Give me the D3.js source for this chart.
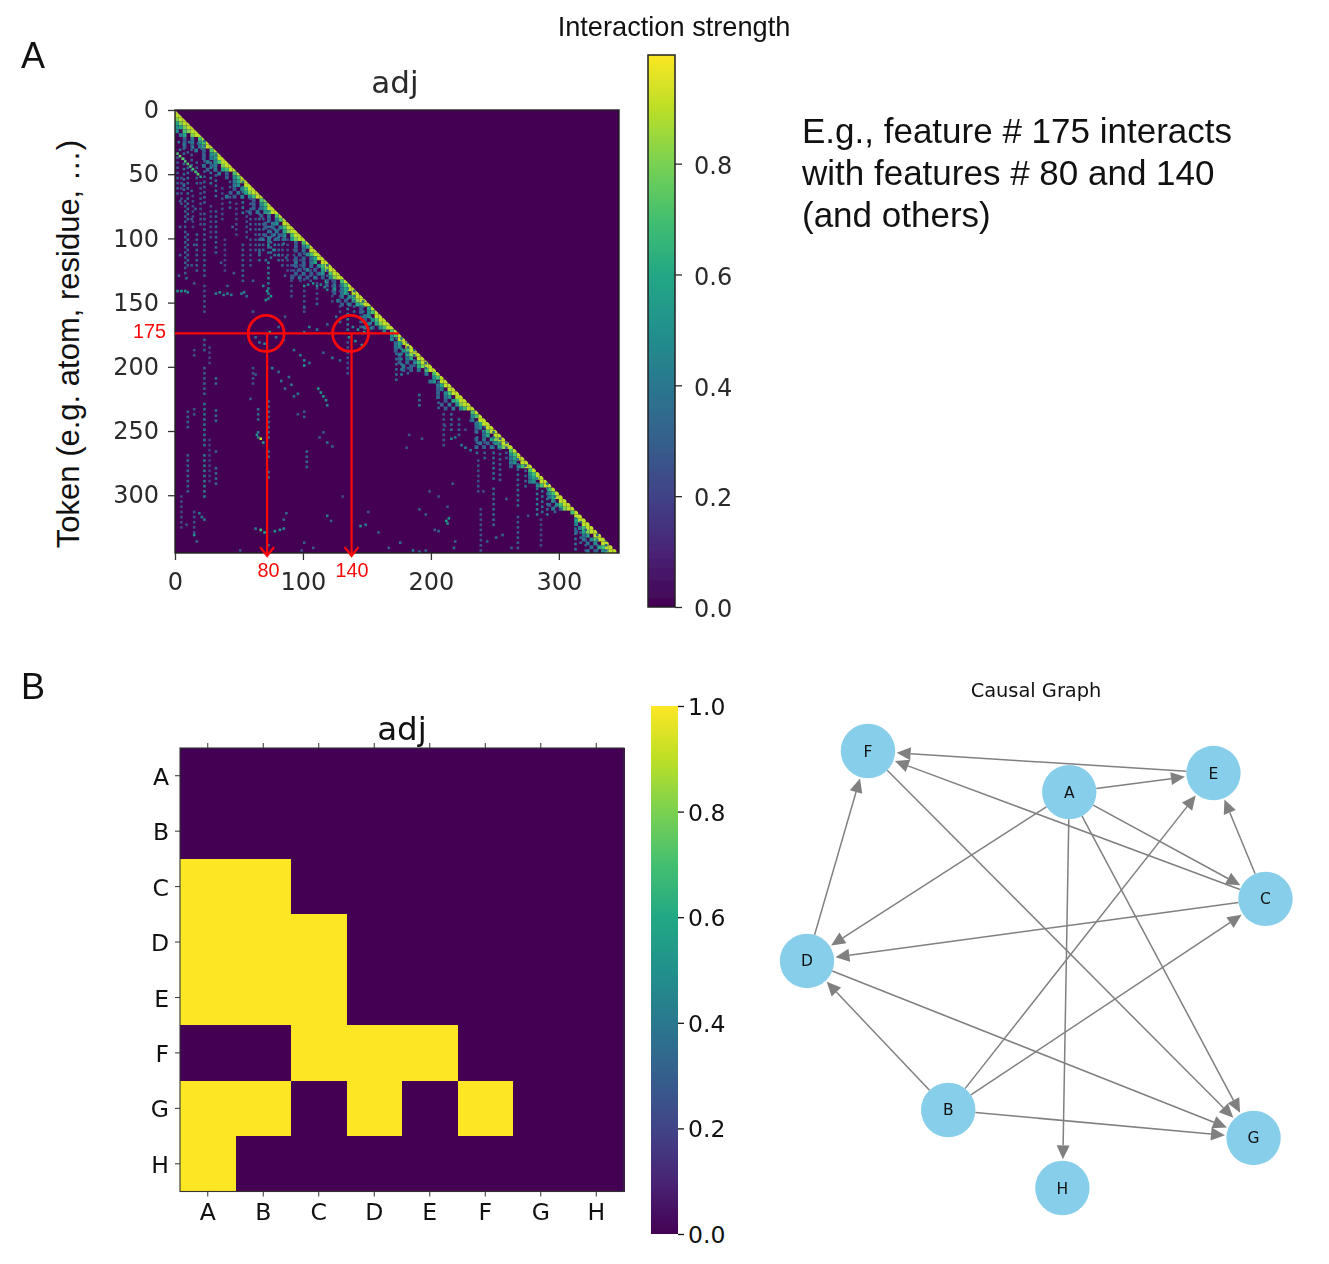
<!DOCTYPE html>
<html>
<head>
<meta charset="utf-8">
<script src="https://cdn.jsdelivr.net/npm/d3@7/dist/d3.min.js"></script>
<style>
html,body{margin:0;padding:0;background:#fff}
svg{display:block}
text{font-family:"DejaVu Sans"}
text.arial{font-family:"Liberation Sans"}
</style>
</head>
<body>
<svg id="chart" width="1329" height="1264"></svg>
<script>
// ---- Panel A: token adjacency heatmap ----
const tokenXTicks = [0,100,200,300];
const tokenYTicks = [0,50,100,150,200,250,300];
const strengthTicks = [0,0.2,0.4,0.6,0.8];
// Near-diagonal band. One string per 3-token row; each character is the strength (x10)
// of a 3-token cell, walking left from the diagonal.
const bandRows = [
"9","99","998","9986","99865","9987.5","998.64",
"97.4.3","975.4.3","9974.3.3",
"97.3.4","975.3","9964.3","9975.4","998.53.4","9976.4.3",
"97.3.4","975.3","9964","99.54","9975.3","9986.4.3","9975.4.3.4",
"87.3","975.3","9964.3","9975.4.3",
"97.3.3","974.3","99.54.3","9975.3.3","9986.4.3","997.53.3.3","9986.4.3.4.3",
"97.3","964.3","99.4.3","9975.3","9964.3.3","99.64.3.4","9975.4.3.3","9986.3.4.3","997.54.3.4.3","9985.3.4.3.4.3",
"97.3.6","975.4.3","9964.5","99.64.3","9975.4","9986.3.4","9976.4.3",
"96.3","975.3","99.54","9975.3","9986.4","9975.3.4",
"97.4","975","99.5","9964","99.54","9975.3","9986.4","99.64.3","9975.4.3","9986.3.4","997.4.3.3",
"97.4","975","99.54","9964","99.43","9975.3","99.54.3","9976.3","9985.4.3","9975.4.3",
"97","975","99.4","9964","99.53","9975.3","99.64","9986.4.3","9975.3.4","9986.4.3.3",
"97","975","9964","99.54","9975.3",
"97","975","9964","99.54","9975",
"97","975","9964","99.5","9975.3","9986.4",
"97","99","996","99.5","9975","9986.3","99.64","9975.4","99.5.4","9976.4","9985.3.4","99.6.4.3"
];
// Vertical streaks: column, first row, last row, strength.
const streaks = [
[1,36,65,.3],[4,52,75,.26],[6,25,62,.35],[7,70,128,.3],[9,44,88,.35],[9,96,122,.3],[12,30,48,.3],[13,66,92,.22],[16,40,60,.3],[16,96,125,.3],
[19,56,90,.25],[22,23,72,.32],[22,80,130,.3],[22,136,159,.26],[27,36,60,.42],[27,74,100,.22],[31,34,70,.36],[31,78,114,.32],[36,60,88,.22],[38,100,126,.2],[42,55,78,.3],[47,72,98,.22],
[52,55,80,.42],[52,104,133,.3],[55,78,100,.24],[58,68,96,.3],[58,100,122,.26],[62,84,112,.26],[65,76,117,.36],[68,84,110,.32],[72,78,112,.4],[72,118,148,.42],
[74,90,118,.36],[77,88,115,.42],[80,92,118,.32],[83,96,122,.3],[87,100,128,.25],[92,108,132,.25],[97,112,135,.24],[100,107,135,.3],[100,140,159,.26],[105,116,134,.3],[110,122,148,.24],[122,132,150,.24],[128,136,158,.25],[134,138,172,.42],
[139,140,160,.35],[146,148,170,.38],[152,161,172,.48],[144,152,170,.32],[118,120,140,.3],[90,120,145,.25],
[22,178,190,.3],[22,200,222,.3],[22,228,262,.38],[22,268,304,.42],[31,208,214,.34],[31,233,245,.35],[31,265,268,.32],
[31,278,291,.35],[9,234,250,.3],[9,268,300,.3],[14,186,192,.26],[14,232,240,.25],[72,226,255,.42],[72,265,273,.44],
[72,281,289,.44],[64,232,242,.34],[64,250,255,.42],[100,234,242,.3],[102,265,281,.32],[60,200,215,.25],[134,180,205,.25],[4,300,325,.22],[14,312,330,.25],[26,184,200,.2],[26,256,290,.18],
[172,177,210,.34],[176,177,206,.42],[181,180,205,.32],[205,211,234,.34],[190,221,232,.38],[209,236,262,.27],[186,178,200,.32],[195,184,204,.32],
[215,236,250,.34],[221,240,254,.32],[235,242,268,.38],[236,272,300,.25],[238,310,343,.25],[241,246,272,.32],[248,250,290,.36],[248,294,323,.33],[253,255,290,.3],[258,258,272,.27],
[267,271,310,.34],[267,316,343,.3],[273,276,296,.32],[282,286,315,.42],[286,296,316,.38],[290,290,315,.4],[285,318,340,.22],[296,300,316,.34],[312,317,343,.4],[316,320,340,.34],[329,326,343,.36],[320,326,343,.3],[336,334,344,.34]
];
// Isolated dots: row, column, strength.
const specks = [
[33,1,.72],[35,3,.74],[37,5,.76],[39,7,.7],[41,9,.74],[43,11,.7],[45,13,.7],[47,15,.7],[49,17,.74],[51,19,.6],
[24,2,.45],[26,6,.4],[24,10,.4],[28,13,.45],[25,17,.35],[29,20,.4],[30,3,.4],[32,9,.3],[58,6,.4],[62,12,.3],[70,3,.3],[76,15,.3],[84,12,.3],[90,3,.28],[104,14,.32],[112,3,.3],[120,12,.28],[128,2,.3],[130,8,.35],[134,14,.28],
[140,1,.5],[140,4,.55],[140,7,.5],[141,9,.45],[142,31,.45],[141,34,.5],[143,37,.42],[142,40,.45],[143,43,.4],
[142,51,.42],[141,53,.45],[144,55,.35],[136,68,.45],[140,71,.55],[144,74,.55],[147,70,.5],[136,100,.5],[135,103,.45],
[134,107,.5],[136,110,.5],[135,113,.45],[137,116,.45],[139,118,.4],[150,110,.35],[153,100,.3],[160,85,.28],[156,60,.28],
[100,68,.45],[104,72,.5],[108,76,.5],[112,80,.42],[98,80,.42],[103,84,.4],[110,65,.35],[116,70,.38],[114,86,.32],
[120,92,.3],[124,95,.3],[118,100,.3],[128,85,.28],[132,60,.3],[136,40,.3],[126,45,.3],[118,35,.28],[90,44,.3],
[160,125,.35],[164,128,.35],[168,138,.45],[170,142,.55],[172,147,.55],[166,118,.3],[170,110,.4],[168,104,.45],[172,100,.4],
[176,62,.35],[180,65,.42],[181,69,.45],[172,73,.6],[176,78,.35],[168,80,.3],[178,84,.3],[176,135,.5],[179,140,.5],[182,145,.45],
[186,92,.35],[190,97,.4],[194,100,.48],[198,100,.55],[196,104,.4],[188,115,.3],[192,122,.4],[194,128,.35],[200,75,.45],[203,80,.35],
[205,62,.3],[207,88,.35],[210,82,.4],[213,90,.4],[216,85,.35],[216,111,.5],[219,113,.55],[222,115,.55],[225,117,.5],[229,118,.45],
[220,95,.38],[222,92,.35],[224,58,.3],[236,95,.25],[250,115,.3],[255,66,.9],[252,63,.5],[258,68,.55],[254,112,.3],[258,118,.38],[261,122,.32],
[326,66,.7],[328,69,.6],[325,62,.4],[327,77,.5],[326,81,.5],[325,84,.45],[313,18,.42],[316,20,.42],[318,22,.42],[330,14,.5],[335,16,.32],
[322,8,.25],[313,86,.32],[318,84,.3],[315,118,.42],[319,121,.3],[323,144,.5],[322,148,.4],[328,158,.3],[312,150,.28],[300,130,.22],
[336,100,.3],[340,107,.3],[342,98,.25],[345,80,.25],[338,72,.35],[342,50,.25],[340,166,.28],[336,175,.35],[319,211,.55],[317,213,.5],[321,212,.5],
[255,215,.45],[254,218,.4],[260,223,.42],[262,226,.42],[264,230,.42],[255,192,.28],[262,180,.25],[252,182,.25],[310,190,.3],[314,195,.3],[308,212,.25],
[327,205,.35],[326,202,.3],[342,185,.42],[343,190,.35],[335,218,.32],[340,217,.35],[342,195,.32],[332,250,.35],[330,255,.32],[335,243,.3],[340,262,.3],
[290,216,.28],[296,198,.25],[300,205,.25],[296,240,.25],[302,258,.28],[315,275,.25],[310,300,.22],[241,230,.3],[248,226,.25],[245,210,.25]
];
const annotatedRow = 174, annotatedCols = [72,138], annotatedEnd = 175;
const annotationTexts = ["175","80","140"];
const noteLines = ["E.g., feature # 175 interacts","with features # 80 and 140","(and others)"];

// ---- Panel B: adjacency matrix and causal graph ----
const variables = ["A","B","C","D","E","F","G","H"];
const matrixRows = [
[0,0,0,0,0,0,0,0],
[0,0,0,0,0,0,0,0],
[1,1,0,0,0,0,0,0],
[1,1,1,0,0,0,0,0],
[1,1,1,0,0,0,0,0],
[0,0,1,1,1,0,0,0],
[1,1,0,1,0,1,0,0],
[1,0,0,0,0,0,0,0]
];
const matrixTicks = [0,0.2,0.4,0.6,0.8,1.0];
// Layout coordinates of the graph nodes (unit square).
const layoutX = {A:.144,B:-.384,C:1,D:-1,E:.773,F:-.734,G:.948,H:.114};
const layoutY = {A:.812,B:-.643,C:.323,D:.039,E:.899,F:1,G:-.771,H:-1};

const svg = d3.select("#chart");
const defs = svg.append("defs");
const viridis = d3.scaleSequential(d3.interpolateViridis).domain([0,1]);
defs.append("filter").attr("id","soft").attr("x","-5%").attr("y","-5%").attr("width","110%").attr("height","110%")
  .append("feGaussianBlur").attr("stdDeviation",0.7);
defs.append("filter").attr("id","softText").attr("x","-5%").attr("y","-5%").attr("width","110%").attr("height","110%")
  .append("feGaussianBlur").attr("stdDeviation",0.4);

function colorbar(id,x0,x1,y0,y1,domainTop,ticks,fmtSize,stroke,strokeW,tickColor,blur,textShift){
  const grad = defs.append("linearGradient").attr("id",id).attr("x1",0).attr("x2",0).attr("y1",1).attr("y2",0);
  d3.range(0,11).forEach(i=>grad.append("stop").attr("offset",i/10).attr("stop-color",viridis(i/10*domainTop)));
  const s = d3.scaleLinear().domain([0,domainTop]).range([y1,y0]);
  const g = svg.append("g");
  g.append("rect").attr("x",x0).attr("y",y0).attr("width",x1-x0).attr("height",y1-y0)
   .attr("fill",`url(#${id})`).attr("stroke",stroke).attr("stroke-width",strokeW);
  const ax = g.append("g").attr("transform",`translate(${x1},0)`)
   .call(d3.axisRight(s).tickValues(ticks).tickFormat(d3.format(".1f")).tickSize(blur?7:6).tickPadding(blur?12:4));
  ax.select(".domain").remove();
  ax.selectAll("line").attr("stroke",tickColor).attr("stroke-width",1.3);
  ax.selectAll("text").attr("font-size",fmtSize).attr("fill",tickColor).attr("font-family","DejaVu Sans")
    .attr("transform",`translate(0,${textShift})`);
  if(blur) g.attr("filter","url(#softText)");
}

// ---- Panel A ----
const ax = d3.scaleLinear().domain([0,347]).range([175,619]);
const ay = d3.scaleLinear().domain([0,345]).range([110,553]);
const A = svg.append("g");
defs.append("clipPath").attr("id","plotA").append("rect")
  .attr("x",ax(0)).attr("y",ay(0)).attr("width",ax(347)-ax(0)).attr("height",ay(345)-ay(0));
A.append("rect").attr("x",ax(0)).attr("y",ay(0)).attr("width",ax(347)-ax(0)).attr("height",ay(345)-ay(0)).attr("fill",viridis(0));
const heat = A.append("g").attr("clip-path","url(#plotA)").append("g").attr("filter","url(#soft)");
const cellW = ax(2)-ax(0), cellH = ay(2)-ay(0);
const bandCells = bandRows.flatMap((s,i)=>Array.from(s).map((ch,j)=>({r:3*i,c:3*i-3*j,v:ch==="."?null:(+ch)/10}))).filter(d=>d.v!==null&&d.c>=0);
heat.selectAll("rect.bd").data(bandCells).join("rect").attr("class","bd")
  .attr("x",d=>ax(d.c)).attr("y",d=>ay(d.r)).attr("width",ax(3)-ax(0)).attr("height",ay(3)-ay(0)).attr("fill",d=>viridis(d.v));
const streakCells = streaks.flatMap(([c,r0,r1,v])=>d3.range(r0,r1,4).map(r=>({r,c,v})));
heat.selectAll("rect.st").data(streakCells).join("rect").attr("class","st")
  .attr("x",d=>ax(d.c)).attr("y",d=>ay(d.r)).attr("width",cellW).attr("height",cellH).attr("fill",d=>viridis(d.v));
heat.selectAll("rect.sp").data(specks).join("rect").attr("class","sp")
  .attr("x",d=>ax(d[1])).attr("y",d=>ay(d[0])).attr("width",cellW).attr("height",cellH).attr("fill",d=>viridis(d[2]));
// empty upper triangle over the band
A.append("path").attr("d",d3.line()([[ax(0),ay(0)],[ax(347),ay(0)],[ax(347),ay(345)]])+"Z").attr("fill",viridis(0));
A.append("rect").attr("x",ax(0)).attr("y",ay(0)).attr("width",ax(347)-ax(0)).attr("height",ay(345)-ay(0))
  .attr("fill","none").attr("stroke","#222").attr("stroke-width",1.4);
const axesA = A.append("g").attr("filter","url(#softText)");
const xa = axesA.append("g").attr("transform",`translate(0,${ay(345)})`)
  .call(d3.axisBottom(ax).tickValues(tokenXTicks).tickSize(7).tickPadding(13));
const ya = axesA.append("g").attr("transform",`translate(${ax(0)},0)`)
  .call(d3.axisLeft(ay).tickValues(tokenYTicks).tickSize(7).tickPadding(9));
[xa,ya].forEach(g=>{g.select(".domain").remove();
  g.selectAll("line").attr("stroke","#333").attr("stroke-width",1.3);
  g.selectAll("text").attr("font-size",24).attr("fill","#2a2a2a").attr("font-family","DejaVu Sans");});
axesA.append("text").attr("x",395).attr("y",93).attr("text-anchor","middle").attr("font-size",31).attr("fill","#2a2a2a").text("adj");
colorbar("cbA",648,675,55,607,0.996,strengthTicks,24,"#222",1.5,"#2a2a2a",true,2);

svg.append("text").attr("class","arial").attr("x",674).attr("y",36).attr("text-anchor","middle").attr("font-size",27.2).attr("fill","#111").text("Interaction strength");
svg.append("text").attr("class","arial").attr("x",21).attr("y",68).attr("font-size",36).attr("fill","#111").text("A");
svg.append("text").attr("class","arial").attr("transform","translate(79,344) rotate(-90)").attr("text-anchor","middle").attr("font-size",31).attr("fill","#111").text("Token (e.g. atom, residue, …)");
svg.append("g").selectAll("text").data(noteLines).join("text").attr("class","arial")
  .attr("x",802).attr("y",(d,i)=>143+42*i).attr("font-size",35).attr("fill","#111").text(d=>d);

// red annotation
const red = svg.append("g").attr("fill","none").attr("stroke","#f80808").attr("stroke-width",2.2);
const redLine = d3.line();
red.append("path").attr("d",redLine([[ax(0),ay(annotatedRow)],[ax(annotatedEnd),ay(annotatedRow)]]));
annotatedCols.forEach(c=>{
  red.append("circle").attr("cx",ax(c)-1).attr("cy",ay(annotatedRow)).attr("r",18).attr("stroke-width",2.8);
  const x = ax(c), yEnd = ay(345)+3;
  red.append("path").attr("d",redLine([[x,ay(annotatedRow)],[x,yEnd]]));
  red.append("path").attr("d",redLine([[x-7,yEnd-9],[x,yEnd],[x+7,yEnd-9]]));
});
const redText = svg.append("g").attr("fill","#f80808");
[[166,338,"end"],[268.5,577,"middle"],[352,577,"middle"]].forEach((p,i)=>{
  redText.append("text").attr("class","arial").attr("x",p[0]).attr("y",p[1]).attr("text-anchor",p[2]).attr("font-size",19.8).text(annotationTexts[i]);
});

// ---- Panel B: matrix ----
const bx = d3.scaleBand().domain(variables).range([180,624]);
const by = d3.scaleBand().domain(variables).range([748,1191.5]);
const B = svg.append("g");
const matCells = matrixRows.flatMap((row,i)=>row.map((v,j)=>({r:variables[i],c:variables[j],v})));
B.selectAll("rect.m").data(matCells).join("rect").attr("class","m").attr("shape-rendering","crispEdges")
  .attr("x",d=>bx(d.c)).attr("y",d=>by(d.r)).attr("width",bx.bandwidth()+.5).attr("height",by.bandwidth()+.5).attr("fill",d=>viridis(d.v));
B.append("rect").attr("x",180).attr("y",748).attr("width",444).attr("height",443.5).attr("fill","none").attr("stroke","#333").attr("stroke-width",1.1);
const xb = B.append("g").attr("transform","translate(0,1191.5)").call(d3.axisBottom(bx).tickSize(5).tickPadding(7));
const xt = B.append("g").attr("transform","translate(0,748)").call(d3.axisTop(bx).tickSize(5).tickFormat(""));
const yb = B.append("g").attr("transform","translate(180,0)").call(d3.axisLeft(by).tickSize(5).tickPadding(7));
[xb,xt,yb].forEach(g=>{g.select(".domain").remove();
  g.selectAll("line").attr("stroke","#333").attr("stroke-width",1);
  g.selectAll("text").attr("font-size",23.5).attr("fill","#111").attr("font-family","DejaVu Sans");});
yb.selectAll("text").attr("transform","translate(1,1.5)");
B.append("text").attr("x",402).attr("y",740).attr("text-anchor","middle").attr("font-size",32.5).attr("fill","#111").text("adj");
colorbar("cbB",651,678,706,1234,1,matrixTicks,23.5,"none",0,"#111",false,1);
svg.append("text").attr("class","arial").attr("x",21).attr("y",699).attr("font-size",36).attr("fill","#111").text("B");

// ---- Panel B: causal graph (edges come from the matrix, column -> row) ----
const gx = d3.scaleLinear().domain([-1,1]).range([807,1265.5]);
const gy = d3.scaleLinear().domain([-1,1]).range([1188,751]);
const G = svg.append("g");
G.append("text").attr("x",1036).attr("y",697).attr("text-anchor","middle").attr("font-size",19.4).attr("fill","#111").text("Causal Graph");
const edges = matCells.filter(d=>d.v===1).map(d=>({source:d.c,target:d.r}));
const nodeR = 27.2, gap = 1.5, headL = 14, headW = 6.5;
const edgeGeom = edges.map(e=>{
  const x0=gx(layoutX[e.source]),y0=gy(layoutY[e.source]),x1=gx(layoutX[e.target]),y1=gy(layoutY[e.target]);
  const L=Math.hypot(x1-x0,y1-y0),ux=(x1-x0)/L,uy=(y1-y0)/L;
  const tip=[x1-ux*(nodeR+gap),y1-uy*(nodeR+gap)];
  const base=[tip[0]-ux*headL,tip[1]-uy*headL];
  return {line:[[x0+ux*nodeR,y0+uy*nodeR],base],
    head:[tip,[base[0]-uy*headW,base[1]+ux*headW],[base[0]+uy*headW,base[1]-ux*headW]]};
});
G.selectAll("path.e").data(edgeGeom).join("path").attr("class","e").attr("d",d=>d3.line()(d.line)).attr("stroke","#808080").attr("stroke-width",1.5).attr("fill","none");
G.selectAll("path.h").data(edgeGeom).join("path").attr("class","h").attr("d",d=>d3.line()(d.head)+"Z").attr("fill","#808080");
G.selectAll("circle").data(variables).join("circle").attr("cx",d=>gx(layoutX[d])).attr("cy",d=>gy(layoutY[d])).attr("r",nodeR).attr("fill","#87ceeb");
G.selectAll("text.n").data(variables).join("text").attr("class","n").attr("x",d=>gx(layoutX[d])).attr("y",d=>gy(layoutY[d])+0.5)
  .attr("text-anchor","middle").attr("dominant-baseline","central").attr("font-size",15.5).attr("fill","#111").text(d=>d);
</script>
</body>
</html>
